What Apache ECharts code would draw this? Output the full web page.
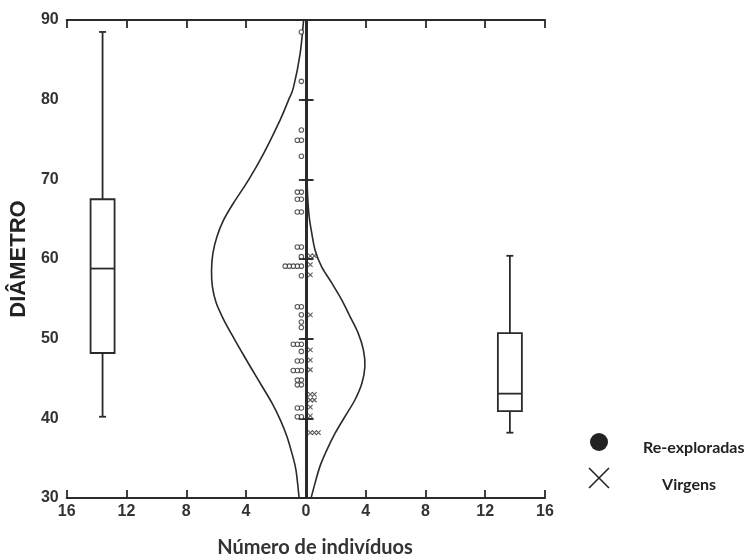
<!DOCTYPE html>
<html>
<head>
<meta charset="utf-8">
<script src="https://cdn.jsdelivr.net/npm/echarts@6/dist/echarts.min.js"></script>
<style>
html,body{margin:0;padding:0;background:#fff}
#main{width:747px;height:557px}
</style>
</head>
<body>
<div id="main"></div>
<script>
// ticks of the mirrored x axis and the diameter axis
var xTicks = [-16, -12, -8, -4, 0, 4, 8, 12, 16];
var yMin = 30, yMax = 90, yStep = 10;

// individual diameters (dot plot)
var reExploradas = [88.5, 82.3, 76.2, 74.9, 74.9, 72.9, 68.4, 68.4, 67.5, 67.5, 65.9, 65.9,
    61.5, 61.5, 60.3, 59.1, 59.1, 59.1, 59.1, 59.1, 57.9, 54.0, 54.0, 53.0, 52.1, 51.4,
    49.3, 49.3, 49.3, 48.4, 47.2, 47.2, 46.0, 46.0, 46.0, 44.8, 44.8, 44.2, 44.2,
    41.3, 41.3, 40.2, 40.2];
var virgens = [60.4, 60.4, 59.3, 58.0, 53.0, 48.6, 47.3, 46.1, 43.0, 43.0, 42.3, 42.3,
    41.4, 40.3, 38.2, 38.2, 38.2];

// density curves [individuos, diametro]
var curvaReExp = [[0.15, 90], [0.38, 85.8], [0.82, 81.6], [1.15, 80], [1.71, 77.5], [2.81, 73.3],
    [3.81, 70], [4.85, 67], [5.5, 64.9], [5.95, 62.8], [6.22, 60.7], [6.31, 58.6], [6.25, 56.5],
    [6.0, 54.5], [5.5, 52.4], [4.8, 50], [4.25, 48.2], [3.59, 46.1], [2.92, 44.0], [2.26, 41.9],
    [1.71, 39.8], [1.26, 37.7], [0.93, 35.6], [0.66, 33.5], [0.45, 30]];
var curvaVirgens = [[0.02, 90], [0.04, 80], [0.08, 70], [0.2, 65.7], [0.4, 63.2], [0.62, 61.1],
    [1.06, 59.0], [1.73, 57.0], [2.39, 54.9], [2.95, 52.8], [3.50, 50.7], [3.85, 48.6],
    [3.95, 46.5], [3.75, 44.4], [3.28, 42.3], [2.61, 40.2], [1.95, 38.1], [1.40, 36.0],
    [0.95, 34.0], [0.62, 31.9], [0.35, 30]];

// boxplots: [posicao x, min, q1, mediana, q3, max]
var boxReExp = [-13.6, 40.2, 48.2, 58.8, 67.5, 88.5];
var boxVirgens = [13.65, 38.2, 40.9, 43.1, 50.7, 60.4];

var legendNames = ['Re-exploradas', 'Virgens'];

var ink = '#2a2a2a';
var xPath = 'path://M0,0L10,10M10,0L0,10';

// stack repeated values sideways like a dot plot
function stackDots(vals, side) {
    var seen = {}, out = [];
    for (var i = 0; i < vals.length; i++) {
        var k = vals[i].toFixed(1);
        var n = seen[k] || 0;
        seen[k] = n + 1;
        out.push([side * (0.3 + n * 0.27), vals[i]]);
    }
    return out;
}

// smooth curve through the read points (catmull-rom), placed with api.coord
function curveRenderer(pts, sign) {
    return function (params, api) {
        var p = pts.map(function (d) { return api.coord([sign * d[0], d[1]]); });
        var d = 'M' + p[0][0] + ' ' + p[0][1];
        for (var i = 0; i < p.length - 1; i++) {
            var p0 = p[i - 1] || p[i], p1 = p[i], p2 = p[i + 1], p3 = p[i + 2] || p2;
            var c1x = p1[0] + (p2[0] - p0[0]) / 6, c1y = p1[1] + (p2[1] - p0[1]) / 6;
            var c2x = p2[0] - (p3[0] - p1[0]) / 6, c2y = p2[1] - (p3[1] - p1[1]) / 6;
            d += ' C' + c1x + ' ' + c1y + ' ' + c2x + ' ' + c2y + ' ' + p2[0] + ' ' + p2[1];
        }
        return {type: 'path', shape: {pathData: d}, style: {stroke: ink, lineWidth: 1.6, fill: null}};
    };
}

function renderBox(params, api) {
    var x = api.value(0);
    var pMin = api.coord([x, api.value(1)]);
    var pQ1 = api.coord([x, api.value(2)]);
    var pMed = api.coord([x, api.value(3)]);
    var pQ3 = api.coord([x, api.value(4)]);
    var pMax = api.coord([x, api.value(5)]);
    var cx = pMed[0], hw = 12, cap = 3.5;
    var st = {stroke: ink, lineWidth: 1.8, fill: null};
    return {
        type: 'group',
        children: [
            {type: 'rect', shape: {x: cx - hw, y: pQ3[1], width: hw * 2, height: pQ1[1] - pQ3[1]}, style: {stroke: ink, lineWidth: 1.8, fill: '#fff'}},
            {type: 'line', shape: {x1: cx - hw, y1: pMed[1], x2: cx + hw, y2: pMed[1]}, style: st},
            {type: 'line', shape: {x1: cx, y1: pQ3[1], x2: cx, y2: pMax[1]}, style: st},
            {type: 'line', shape: {x1: cx, y1: pQ1[1], x2: cx, y2: pMin[1]}, style: st},
            {type: 'line', shape: {x1: cx - cap, y1: pMax[1], x2: cx + cap, y2: pMax[1]}, style: st},
            {type: 'line', shape: {x1: cx - cap, y1: pMin[1], x2: cx + cap, y2: pMin[1]}, style: st}
        ]
    };
}

var lblFont = {color: '#333', fontFamily: 'Liberation Sans Narrow, Liberation Sans, Arial', fontWeight: 'bold', fontSize: 16};
var axLine = {show: true, lineStyle: {color: ink, width: 2}};

var chart = echarts.init(document.getElementById('main'));
var option = {
    animation: false,
    backgroundColor: '#fff',
    grid: {left: 63, right: 202, top: 20, bottom: 59},
    xAxis: [
        {type: 'value', position: 'bottom', min: -16, max: 16, interval: 4,
            axisLine: axLine, axisTick: {show: true, inside: true, length: 8, lineStyle: {color: ink, width: 1.8}},
            splitLine: {show: false},
            axisLabel: Object.assign({margin: 6, formatter: function (v) { return Math.abs(v); }}, lblFont)},
        {type: 'value', position: 'top', min: -16, max: 16, interval: 4,
            axisLine: axLine, axisTick: {show: true, inside: true, length: 8, lineStyle: {color: ink, width: 1.8}},
            splitLine: {show: false}, axisLabel: {show: false}}
    ],
    yAxis: [
        {type: 'value', position: 'left', min: yMin, max: yMax, interval: yStep,
            name: 'DIÂMETRO', nameLocation: 'middle', nameGap: 19, nameRotate: 90,
            nameTextStyle: {color: '#222', fontFamily: 'Liberation Sans, Arial', fontWeight: 'bold', fontSize: 22},
            axisLine: axLine, axisTick: {show: true, inside: true, length: 7, lineStyle: {color: ink, width: 1.8}},
            splitLine: {show: false},
            axisLabel: Object.assign({margin: 8}, lblFont)},
        {type: 'value', position: 'right', min: yMin, max: yMax, interval: yStep,
            axisLine: axLine, axisTick: {show: true, inside: true, length: 7, lineStyle: {color: ink, width: 1.8}},
            splitLine: {show: false}, axisLabel: {show: false}},
        // central axis at x = 0, ticks on both sides
        {type: 'value', position: 'left', offset: -241, min: yMin, max: yMax, interval: yStep,
            axisLine: {show: true, lineStyle: {color: ink, width: 1.0}},
            axisTick: {show: true, inside: false, length: 6, lineStyle: {color: ink, width: 1.6}},
            splitLine: {show: false}, axisLabel: {show: false}},
        {type: 'value', position: 'left', offset: -241, min: yMin, max: yMax, interval: yStep,
            axisLine: {show: false},
            axisTick: {show: true, inside: true, length: 6, lineStyle: {color: ink, width: 1.6}},
            splitLine: {show: false}, axisLabel: {show: false}}
    ],
    series: [
        {type: 'custom', name: 'curva re-exploradas', renderItem: curveRenderer(curvaReExp, -1),
            data: [[0, 60]], encode: {x: 0, y: 1}, silent: true, z: 3},
        {type: 'custom', name: 'curva virgens', renderItem: curveRenderer(curvaVirgens, 1),
            data: [[0, 60]], encode: {x: 0, y: 1}, silent: true, z: 3},
        {type: 'scatter', name: legendNames[0], data: stackDots(reExploradas, -1),
            symbol: 'circle', symbolSize: 4.5,
            itemStyle: {color: '#fff', borderColor: '#333', borderWidth: 1.1}, z: 4},
        {type: 'scatter', name: legendNames[1], data: stackDots(virgens, 1),
            symbol: xPath, symbolSize: 4.5,
            itemStyle: {color: 'none', borderColor: '#333', borderWidth: 1.1}, z: 4},
        {type: 'custom', name: 'box', renderItem: renderBox,
            data: [boxReExp, boxVirgens], encode: {x: 0, y: [1, 2, 3, 4, 5]}, z: 5}
    ],
    graphic: [
        {type: 'text', style: {text: 'Número de indivíduos', x: 315, y: 548, align: 'center', verticalAlign: 'middle', fill: '#333',
            font: 'bold 20px Lato, "Open Sans", sans-serif'}},
        {type: 'circle', shape: {cx: 599, cy: 442, r: 9}, style: {fill: '#222'}},
        {type: 'line', shape: {x1: 589, y1: 468, x2: 609, y2: 488}, style: {stroke: '#222', lineWidth: 1.6}},
        {type: 'line', shape: {x1: 609, y1: 468, x2: 589, y2: 488}, style: {stroke: '#222', lineWidth: 1.6}},
        {type: 'text', style: {text: legendNames[0], x: 643, y: 448, verticalAlign: 'middle', fill: '#222',
            font: 'bold 16px Lato, "Open Sans", sans-serif'}},
        {type: 'text', style: {text: legendNames[1], x: 689, y: 485, align: 'center', verticalAlign: 'middle', fill: '#222',
            font: 'bold 16px Lato, "Open Sans", sans-serif'}}
    ]
};
chart.setOption(option);
</script>
</body>
</html>
